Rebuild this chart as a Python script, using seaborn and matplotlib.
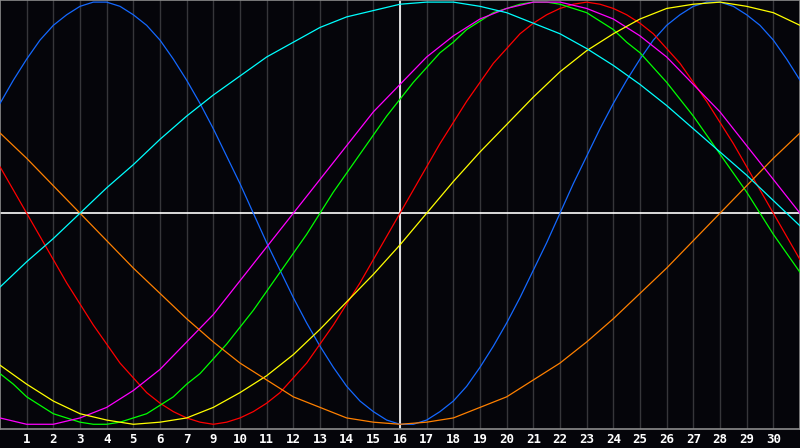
import pandas as pd
import matplotlib
matplotlib.use("Agg")
import matplotlib.pyplot as plt
import seaborn as sns

# day columns across the chart (0 = left edge, 30 = right edge)
days = list(range(31))
half_days = [i / 2 for i in range(61)]

# cycle values in percent
# the short cycles are read every half day, the long ones every day
physical = [52, 63, 73, 82, 89, 94, 98, 100, 100, 98, 94, 89, 82, 73, 63, 52, 40, 27, 14, 0,
            -14, -27, -40, -52, -63, -73, -82, -89, -94, -98, -100, -100, -98, -94, -89, -82,
            -73, -63, -52, -40, -27, -14, 0, 14, 27, 40, 52, 63, 73, 82, 89, 94, 98, 100, 100,
            98, 94, 89, 82, 73, 63]
emotional = [22, 11, 0, -11, -22, -33, -43, -53, -62, -71, -78, -85, -90, -94, -97, -99, -100,
             -99, -97, -94, -90, -85, -78, -71, -62, -53, -43, -33, -22, -11, 0, 11, 22, 33,
             43, 53, 62, 71, 78, 85, 90, 94, 97, 99, 100, 99, 97, 94, 90, 85, 78, 71, 62, 53,
             43, 33, 22, 11, 0, -11, -22]
intellectual = [-76, -81, -87, -91, -95, -97, -99, -100, -100, -99, -97, -95, -91, -87, -81,
                -76, -69, -62, -54, -46, -37, -28, -19, -10, 0, 10, 19, 28, 37, 46, 54, 62,
                69, 76, 81, 87, 91, 95, 97, 99, 100, 100, 99, 97, 95, 91, 87, 81, 76, 69, 62,
                54, 46, 37, 28, 19, 10, 0, -10, -19, -28]
intuitive = [-97, -100, -100, -97, -92, -84, -74, -61, -48, -32, -16, 0, 16, 32, 48, 61,
             74, 84, 92, 97, 100, 100, 97, 92, 84, 74, 61, 48, 32, 16, 0]
aesthetic = [-72, -81, -89, -95, -98, -100, -99, -97, -92, -85, -77, -67, -55, -42, -29, -15,
             0, 15, 29, 42, 55, 67, 77, 85, 92, 97, 99, 100, 98, 95, 89]
awareness = [38, 26, 13, 0, -13, -26, -38, -50, -61, -71, -79, -87, -92, -97, -99, -100,
             -99, -97, -92, -87, -79, -71, -61, -50, -38, -26, -13, 0, 13, 26, 38]
spiritual = [-35, -23, -12, 0, 12, 23, 35, 46, 56, 65, 74, 81, 88, 93, 96, 99,
             100, 100, 98, 95, 90, 85, 78, 70, 61, 51, 40, 29, 18, 6, -6]

# the day labels under the grid lines (the chart skips 8)
tick_days = list(range(1, 30))
tick_labels = ["1", "2", "3", "4", "5", "6", "7", "9", "10", "11", "12", "13", "14", "15",
               "16", "17", "18", "19", "20", "21", "22", "23", "24", "25", "26", "27",
               "28", "29", "30"]
today = 15

series = {
    "Physical": (half_days, physical),
    "Emotional": (half_days, emotional),
    "Intellectual": (half_days, intellectual),
    "Intuitive": (days, intuitive),
    "Aesthetic": (days, aesthetic),
    "Awareness": (days, awareness),
    "Spiritual": (days, spiritual),
}
palette = {
    "Physical": "#1468ff",
    "Emotional": "#ff0000",
    "Intellectual": "#00ff00",
    "Intuitive": "#ff00ff",
    "Aesthetic": "#ffff00",
    "Awareness": "#ff8000",
    "Spiritual": "#00ffff",
}

df = pd.DataFrame([
    {"day": d, "value": v, "cycle": name}
    for name, (xs, vals) in series.items()
    for d, v in zip(xs, vals)
])

sns.set_style("dark")
bg = "#05050a"
fig = plt.figure(figsize=(8, 4.48), dpi=100, facecolor=bg)
ax = fig.add_axes([0, 19.5 / 448, 1, 428.5 / 448])
ax.set_facecolor(bg)

for d in tick_days:
    ax.axvline(d, color="#36363a", linewidth=1.0, zorder=1)
ax.axvline(today, color="white", linewidth=1.2, zorder=2)
ax.axhline(0, color="white", linewidth=1.2, zorder=2)

sns.lineplot(data=df, x="day", y="value", hue="cycle", palette=palette,
             linewidth=0.9, legend=False, ax=ax, zorder=3)

ax.set_xlim(0, 30)
ax.set_ylim(-102, 101)
ax.set_xticks(tick_days)
ax.set_xticklabels(tick_labels, family="DejaVu Sans Mono", fontweight="bold",
                   fontsize=9, color="white")
ax.set_yticks([])
ax.tick_params(axis="x", length=0, pad=3)
ax.set_xlabel("")
ax.set_ylabel("")
ax.grid(False)
for side in ax.spines.values():
    side.set_visible(True)
    side.set_color("#8c8c8c")
    side.set_linewidth(1.2)

fig.savefig("out.png", dpi=100, facecolor=bg)
